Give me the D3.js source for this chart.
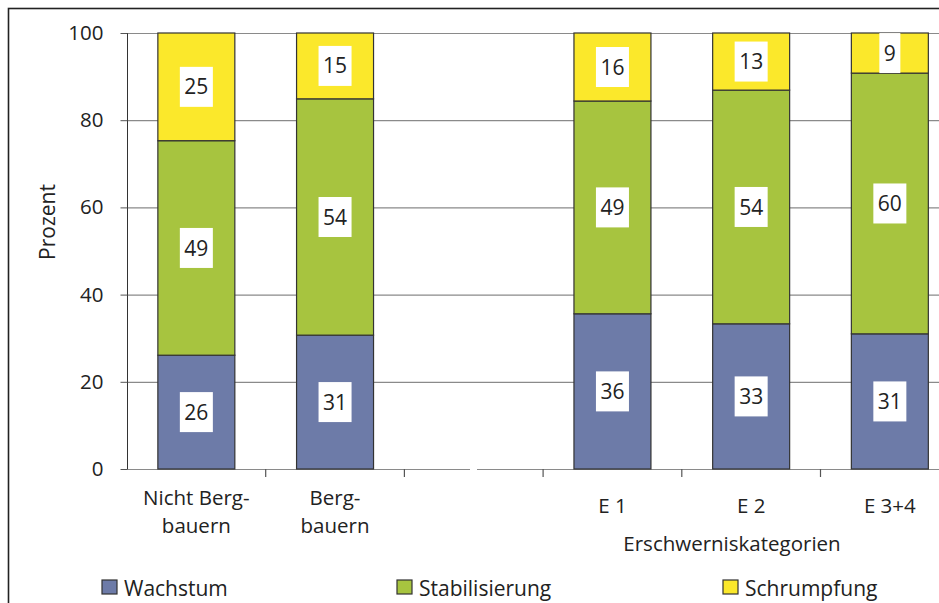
<!DOCTYPE html>
<html>
<head>
<meta charset="utf-8">
<script src="https://cdn.jsdelivr.net/npm/d3@7"></script>
<style>
  body { margin: 0; background: #fff; }
  svg { display: block; font-family: "Open Sans", sans-serif; }
</style>
</head>
<body>
<script>
// categories (the empty slot is the gap between the two groups)
var categories = ["nb", "bb", "gap", "e1", "e2", "e34"];
var categoryLabels = [["Nicht Berg-", "bauern"], ["Berg-", "bauern"], [], ["E 1"], ["E 2"], ["E 3+4"]];

// series values in percent
var wachstum       = [26.1, 30.7, null, 35.6, 33.3, 31.0];
var stabilisierung = [49.2, 54.2, null, 48.8, 53.6, 59.8];
var schrumpfung    = [24.7, 15.1, null, 15.6, 13.1, 9.2];

var seriesNames = ["Wachstum", "Stabilisierung", "Schrumpfung"];
var seriesColors = ["#6d7ba8", "#a7c43f", "#fbe82b"];
var yTicks = [0, 20, 40, 60, 80, 100];

var width = 939,
    height = 603;

var svg = d3.select("body").append("svg")
    .attr("width", width)
    .attr("height", height);

// outer frame (runs off the right and bottom edge)
svg.append("rect")
    .attr("x", 8.5).attr("y", 8.5)
    .attr("width", 1000).attr("height", 700)
    .attr("fill", "none")
    .attr("stroke", "#222")
    .attr("stroke-width", 1.6);

var plotLeft = 127, plotTop = 33, plotBottom = 469, step = 138.7;

var x = d3.scaleBand()
    .domain(categories)
    .range([plotLeft, plotLeft + step * categories.length])
    .paddingInner(0.445)
    .paddingOuter(0.2225);

var y = d3.scaleLinear()
    .domain([0, 100])
    .range([plotBottom, plotTop]);

// gridlines
svg.append("g")
  .selectAll("line")
  .data(yTicks)
  .join("line")
    .attr("x1", plotLeft).attr("x2", width)
    .attr("y1", d => y(d) + 0.5).attr("y2", d => y(d) + 0.5)
    .attr("stroke", "#8a8a8a")
    .attr("stroke-width", 1.2);

// small break in the baseline
svg.append("rect")
    .attr("x", 470).attr("y", plotBottom - 2)
    .attr("width", 7).attr("height", 5)
    .attr("fill", "#fff");

// y axis
var yAxis = svg.append("g")
    .attr("transform", `translate(${plotLeft + 0.5},0)`)
    .call(d3.axisLeft(y).tickValues(yTicks).tickSize(7).tickPadding(17));
yAxis.select(".domain").attr("stroke", "#333").attr("d", `M0,${plotTop}V${plotBottom}`);
yAxis.selectAll(".tick line").attr("stroke", "#555");
yAxis.selectAll(".tick text")
    .attr("fill", "#222")
    .style("font-size", "20.5px")
    .style("font-family", "Open Sans, sans-serif");

// x tick marks at band boundaries
var bounds = categories.map(c => x(c) - x.step() * x.paddingInner() / 2);
svg.append("g")
  .selectAll("line")
  .data(bounds.slice(1))
  .join("line")
    .attr("x1", d => d).attr("x2", d => d)
    .attr("y1", plotBottom).attr("y2", plotBottom + 8)
    .attr("stroke", "#555")
    .attr("stroke-width", 1.2);

// stacked bars
var rows = categories.map((c, i) => ({
  key: c,
  Wachstum: wachstum[i],
  Stabilisierung: stabilisierung[i],
  Schrumpfung: schrumpfung[i]
})).filter(d => d.Wachstum != null);

var stack = d3.stack().keys(seriesNames);
var layers = stack(rows);

var layerG = svg.append("g")
  .selectAll("g")
  .data(layers)
  .join("g")
    .attr("fill", (d, i) => seriesColors[i]);

layerG.selectAll("rect")
  .data(d => d)
  .join("rect")
    .attr("x", d => x(d.data.key))
    .attr("y", d => y(d[1]))
    .attr("width", x.bandwidth())
    .attr("height", d => y(d[0]) - y(d[1]))
    .attr("stroke", "#333")
    .attr("stroke-width", 1.2);

// value labels in white boxes
var labelG = svg.append("g");
layers.forEach(layer => {
  layer.forEach(d => {
    var cx = x(d.data.key) + x.bandwidth() / 2;
    var cy = y((d[0] + d[1]) / 2);
    var g = labelG.append("g");
    var box = g.append("rect").attr("fill", "#fff");
    var t = g.append("text")
        .attr("x", cx)
        .attr("y", cy)
        .attr("dy", "0.36em")
        .attr("text-anchor", "middle")
        .attr("fill", "#222")
        .style("font-size", "21px")
        .text(Math.round(d[1] - d[0]));
    var w = t.node().getBBox().width + 9;
    box.attr("x", cx - w / 2).attr("y", cy - 20)
       .attr("width", w).attr("height", 40);
  });
});

// category labels
categories.forEach((c, i) => {
  var lines = categoryLabels[i];
  var cx = x(c) + x.bandwidth() / 2;
  var startY = lines.length > 1 ? 505 : 513;
  var t = svg.append("text")
      .attr("text-anchor", "middle")
      .attr("fill", "#222")
      .style("font-size", "20.5px");
  lines.forEach((l, j) => {
    t.append("tspan").attr("x", cx).attr("y", startY + j * 28).text(l);
  });
});

svg.append("text")
    .attr("x", 732).attr("y", 551)
    .attr("text-anchor", "middle")
    .attr("fill", "#222")
    .style("font-size", "20.5px")
    .text("Erschwerniskategorien");

// y title
svg.append("text")
    .attr("transform", "translate(55,222) rotate(-90)")
    .attr("text-anchor", "middle")
    .attr("fill", "#222")
    .style("font-size", "21px")
    .text("Prozent");

// legend
var legendX = [102, 397, 723];
var legend = svg.append("g")
  .selectAll("g")
  .data(seriesNames)
  .join("g")
    .attr("transform", (d, i) => `translate(${legendX[i]},580)`);
legend.append("rect")
    .attr("width", 15).attr("height", 14)
    .attr("fill", (d, i) => seriesColors[i])
    .attr("stroke", "#333")
    .attr("stroke-width", 1.2);
legend.append("text")
    .attr("x", 22).attr("y", 16)
    .attr("fill", "#222")
    .style("font-size", "21px")
    .text(d => d);
</script>
</body>
</html>
